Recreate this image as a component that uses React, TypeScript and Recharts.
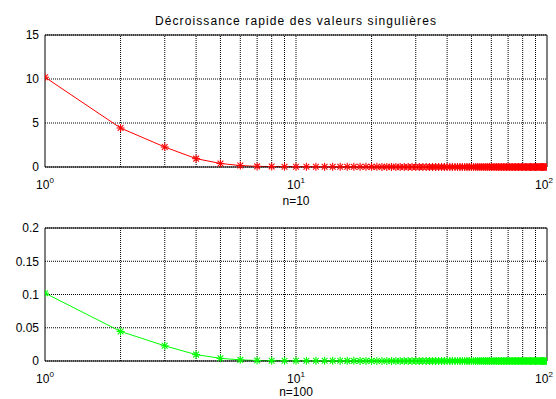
import React from "react";
import {
  LineChart,
  Line,
  XAxis,
  YAxis,
  CartesianGrid,
  ReferenceLine,
} from "recharts";

// singular values for n=10 (index i -> rank i+1)
const valuesN10 = [
  10.2, 4.43, 2.27, 0.95, 0.4, 0.16, 0.07, 0.05, 0.04, 0.035,
  0.03, 0.028, 0.026, 0.024, 0.022, 0.02, 0.019, 0.018, 0.017, 0.016,
  0.015, 0.014, 0.014, 0.013, 0.013, 0.012, 0.012, 0.011, 0.011, 0.01,
  0.01, 0.01, 0.009, 0.009, 0.009, 0.008, 0.008, 0.008, 0.008, 0.007,
  0.007, 0.007, 0.007, 0.006, 0.006, 0.006, 0.006, 0.006, 0.005, 0.005,
  0.005, 0.005, 0.005, 0.005, 0.004, 0.004, 0.004, 0.004, 0.004, 0.004,
  0.004, 0.003, 0.003, 0.003, 0.003, 0.003, 0.003, 0.003, 0.003, 0.003,
  0.003, 0.002, 0.002, 0.002, 0.002, 0.002, 0.002, 0.002, 0.002, 0.002,
  0.002, 0.002, 0.002, 0.002, 0.001, 0.001, 0.001, 0.001, 0.001, 0.001,
  0.001, 0.001, 0.001, 0.001, 0.001, 0.001, 0.001, 0.001, 0.001, 0.001,
];

// singular values for n=100
const valuesN100 = [
  0.102, 0.0445, 0.0228, 0.0096, 0.004, 0.0017, 0.0008, 0.0005, 0.0004, 0.00035,
  0.0003, 0.00028, 0.00026, 0.00024, 0.00022, 0.0002, 0.00019, 0.00018, 0.00017, 0.00016,
  0.00015, 0.00014, 0.00014, 0.00013, 0.00013, 0.00012, 0.00012, 0.00011, 0.00011, 0.0001,
  0.0001, 0.0001, 0.00009, 0.00009, 0.00009, 0.00008, 0.00008, 0.00008, 0.00008, 0.00007,
  0.00007, 0.00007, 0.00007, 0.00006, 0.00006, 0.00006, 0.00006, 0.00006, 0.00005, 0.00005,
  0.00005, 0.00005, 0.00005, 0.00005, 0.00004, 0.00004, 0.00004, 0.00004, 0.00004, 0.00004,
  0.00004, 0.00003, 0.00003, 0.00003, 0.00003, 0.00003, 0.00003, 0.00003, 0.00003, 0.00003,
  0.00003, 0.00002, 0.00002, 0.00002, 0.00002, 0.00002, 0.00002, 0.00002, 0.00002, 0.00002,
  0.00002, 0.00002, 0.00002, 0.00002, 0.00001, 0.00001, 0.00001, 0.00001, 0.00001, 0.00001,
  0.00001, 0.00001, 0.00001, 0.00001, 0.00001, 0.00001, 0.00001, 0.00001, 0.00001, 0.00001,
];

const xTicks = [1, 10, 100];
const xExponents = ["0", "1", "2"];
const xGridLines = [2, 3, 4, 5, 6, 7, 8, 9, 10, 20, 30, 40, 50, 60, 70, 80, 90];
const yTicksTop = [0, 5, 10, 15];
const yTicksBottom = [0, 0.05, 0.1, 0.15, 0.2];

const topData = valuesN10.map((v, i) => ({ n: i + 1, v }));
const bottomData = valuesN100.map((v, i) => ({ n: i + 1, v }));

const FONT = "'Liberation Sans', Arial, sans-serif";

const makeStar = (color: string) => (p: any) => {
  const { cx, cy, index } = p;
  if (cx == null || cy == null) return <g key={`s${index}`} />;
  const r = 4;
  const d = r * 0.72;
  return (
    <g key={`s${index}`} stroke={color} strokeWidth={1.1}>
      <line x1={cx - r} y1={cy} x2={cx + r} y2={cy} />
      <line x1={cx} y1={cy - r} x2={cx} y2={cy + r} />
      <line x1={cx - d} y1={cy - d} x2={cx + d} y2={cy + d} />
      <line x1={cx - d} y1={cy + d} x2={cx + d} y2={cy - d} />
    </g>
  );
};

const PowTick = (p: any) => {
  const { x, y, payload } = p;
  const idx = xTicks.indexOf(payload.value);
  return (
    <text x={x} y={y + 14} textAnchor="middle" fontSize={12} fontFamily={FONT} fill="#000">
      <tspan>10</tspan>
      <tspan dy={-6} fontSize={8}>{xExponents[idx]}</tspan>
    </text>
  );
};

function Panel({
  data,
  color,
  yTicks,
  height,
  top,
  xHeight,
}: {
  data: { n: number; v: number }[];
  color: string;
  yTicks: number[];
  height: number;
  top: number;
  xHeight: number;
}) {
  const yMax = yTicks[yTicks.length - 1];
  return (
    <LineChart
      width={556}
      height={height}
      data={data}
      margin={{ top, right: 9, left: 0, bottom: 0 }}
    >
      <CartesianGrid vertical={false} stroke="#000" strokeDasharray="1 1" />
      {xGridLines.map((g) => (
        <ReferenceLine key={g} x={g} stroke="#000" strokeDasharray="1 1" />
      ))}
      <ReferenceLine x={100} stroke="#000" />
      <ReferenceLine y={yMax} stroke="#000" />
      <XAxis
        dataKey="n"
        type="number"
        scale="log"
        domain={[1, 100]}
        ticks={xTicks}
        tick={<PowTick />}
        tickLine={false}
        axisLine={{ stroke: "#000" }}
        height={xHeight}
        allowDataOverflow
      />
      <YAxis
        type="number"
        domain={[0, yMax]}
        ticks={yTicks}
        width={45}
        tickLine={false}
        tickSize={3}
        tickMargin={3}
        axisLine={{ stroke: "#000" }}
        tick={{ fontSize: 12, fill: "#000", fontFamily: FONT }}
      />
      <Line
        dataKey="v"
        stroke={color}
        strokeWidth={1}
        dot={makeStar(color)}
        isAnimationActive={false}
      />
    </LineChart>
  );
}

export default function App() {
  const label: React.CSSProperties = {
    position: "absolute",
    left: 45,
    width: 502,
    textAlign: "center",
    fontSize: 12,
    fontFamily: FONT,
    color: "#000",
    lineHeight: "14px",
  };
  return (
    <div
      style={{
        position: "absolute",
        left: 0,
        top: 0,
        width: 556,
        height: 399,
        background: "#fff",
      }}
    >
      <div style={{ ...label, top: 14, letterSpacing: 1.1 }}>
        Décroissance rapide des valeurs singulières
      </div>
      <Panel data={topData} color="#ff0000" yTicks={yTicksTop} height={200} top={35} xHeight={33} />
      <div style={{ ...label, top: 194 }}>n=10</div>
      <Panel data={bottomData} color="#00ff00" yTicks={yTicksBottom} height={199} top={28} xHeight={38} />
      <div style={{ ...label, top: 385 }}>n=100</div>
    </div>
  );
}
